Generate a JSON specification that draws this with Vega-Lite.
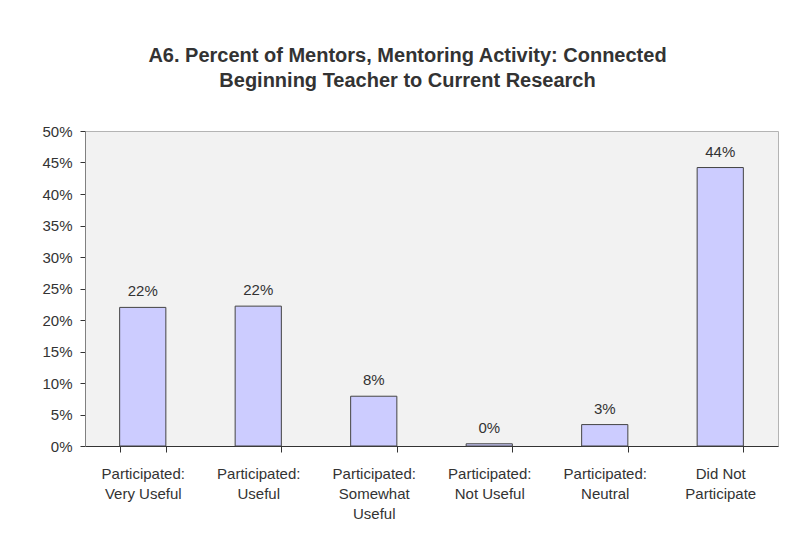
{
  "$schema": "https://vega.github.io/schema/vega-lite/v6.json",
  "width": 693,
  "height": 315,
  "padding": {"left": 5, "top": 46, "right": 20, "bottom": 5},
  "background": "white",
  "title": {
    "text": ["A6. Percent of Mentors, Mentoring Activity: Connected", "Beginning Teacher to Current Research"],
    "font": "Liberation Sans",
    "fontSize": 20,
    "fontWeight": "bold",
    "color": "#333333",
    "lineHeight": 25,
    "anchor": "middle",
    "dx": -24,
    "offset": 33
  },
  "data": {
    "values": [
      {"category": "Participated: Very Useful", "percent": 0.220},
      {"category": "Participated: Useful", "percent": 0.222},
      {"category": "Participated: Somewhat Useful", "percent": 0.079},
      {"category": "Participated: Not Useful", "percent": 0.0035},
      {"category": "Participated: Neutral", "percent": 0.034},
      {"category": "Did Not Participate", "percent": 0.442}
    ]
  },
  "encoding": {
    "x": {
      "field": "category",
      "type": "nominal",
      "sort": null,
      "scale": {"paddingInner": 0.6, "paddingOuter": 0.3},
      "axis": {
        "title": null,
        "labelAngle": 0,
        "tickBand": "extent",
        "tickSize": 6,
        "tickColor": "#333333",
        "domainColor": "#333333",
        "labelFont": "Liberation Sans",
        "labelFontSize": 15,
        "labelColor": "#333333",
        "labelLineHeight": 20,
        "labelPadding": 14,
        "labelBaseline": "top",
        "labelExpr": "!isValid(datum.value) ? '' : datum.value == 'Did Not Participate' ? ['Did Not', 'Participate'] : datum.value == 'Participated: Somewhat Useful' ? ['Participated:', 'Somewhat', 'Useful'] : ['Participated:', replace(datum.value, 'Participated: ', '')]"
      }
    },
    "y": {
      "field": "percent",
      "type": "quantitative",
      "scale": {"domain": [0, 0.5], "nice": false},
      "axis": {
        "title": null,
        "format": ".0%",
        "values": [0, 0.05, 0.1, 0.15, 0.2, 0.25, 0.3, 0.35, 0.4, 0.45, 0.5],
        "grid": false,
        "tickSize": 5,
        "tickColor": "#333333",
        "domainColor": "#808080",
        "labelFont": "Liberation Sans",
        "labelFontSize": 15,
        "labelColor": "#333333",
        "labelPadding": 8,
        "minExtent": 80
      }
    }
  },
  "layer": [
    {
      "mark": {"type": "bar", "fill": "#ccccff", "stroke": "#444444", "strokeWidth": 1}
    },
    {
      "mark": {"type": "text", "baseline": "alphabetic", "dy": -11, "font": "Liberation Sans", "fontSize": 15, "color": "#333333"},
      "encoding": {
        "text": {"field": "percent", "type": "quantitative", "format": ".0%"}
      }
    }
  ],
  "config": {
    "view": {"fill": "#f2f2f2", "stroke": "#b4b4b4"}
  }
}
